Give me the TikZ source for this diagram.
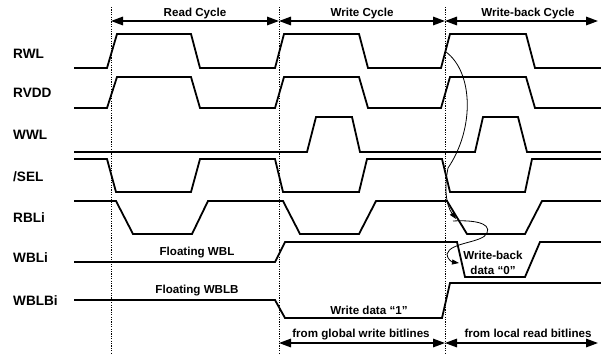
\documentclass[tikz,border=0pt]{standalone}
\usepackage{fontspec}
\setmainfont{Liberation Sans}
\usetikzlibrary{arrows.meta}
\begin{document}
\begin{tikzpicture}[x=1pt,y=-1pt,
 sig/.style={line width=1.8pt, line join=miter},
 sigtext/.style={font=\fontsize{13.6}{15}\selectfont\bfseries, anchor=base west, inner sep=0pt},
 lbl/.style={font=\fontsize{11.6}{13}\selectfont\bfseries, anchor=base, inner sep=0pt},
 cyc/.style={line width=1.6pt, {Triangle[length=12pt,width=8.5pt]}-{Triangle[length=12pt,width=8.5pt]}},
 bound/.style={line width=0.9pt, dash pattern=on 1.2pt off 1.2pt},
 cause/.style={line width=0.8pt, -{Triangle[length=7pt,width=5pt]}}
]
\useasboundingbox (0,0) rectangle (601,354);
% cycle boundaries
\coordinate (b0top) at (111,7);  \coordinate (b0bot) at (111,354);
\coordinate (b1top) at (279,7);  \coordinate (b1bot) at (279,354);
\coordinate (b2top) at (445,7);  \coordinate (b2bot) at (445,354);
\draw[bound] (b0top) -- (b0bot);
\draw[bound] (b1top) -- (b1bot);
\draw[bound] (b2top) -- (b2bot);
% cycle arrows
\coordinate (ra) at (111,21); \coordinate (rb) at (279,21);
\coordinate (wa) at (279,21); \coordinate (wb) at (445,21);
\coordinate (ka) at (445,21); \coordinate (kb) at (598,21);
\draw[cyc] (ra) -- (rb);
\draw[cyc] (wa) -- (wb);
\draw[cyc] (ka) -- (kb);
\node[lbl] (readc) at (195,16) {Read Cycle};
\node[lbl] (writec) at (362,16) {Write Cycle};
\node[lbl] (wbc) at (528,16) {Write-back Cycle};
% bottom arrows
\coordinate (ga) at (279,343); \coordinate (gb) at (445,343);
\coordinate (la) at (445,343); \coordinate (lb) at (598,343);
\draw[cyc] (ga) -- (gb);
\draw[cyc] (la) -- (lb);
\node[lbl] (glob) at (361,337) {from global write bitlines};
\node[lbl] (loc) at (528,337) {from local read bitlines};
% signal labels
\node[sigtext] (rwl) at (13,58.7) {RWL};
\node[sigtext] (rvdd) at (13,97.3) {RVDD};
\node[sigtext] (wwl) at (13,139.3) {WWL};
\node[sigtext] (sel) at (13,181.7) {/SEL};
\node[sigtext] (rbl) at (13,222.7) {RBLi};
\node[sigtext] (wbl) at (13,262.7) {WBLi};
\node[sigtext] (wblb) at (13,305) {WBLBi};
% waveforms
\draw[sig] (74,68) -- (107,68) -- (117,34) -- (191,34) -- (200,68) -- (275,68) -- (284,34) -- (359,34) -- (368,68) -- (441,68) -- (450,34) -- (526,34) -- (535,68) -- (601,68);
\draw[sig] (74,108) -- (107,108) -- (117,77) -- (191,77) -- (200,108) -- (275,108) -- (284,77) -- (359,77) -- (368,108) -- (441,108) -- (450,77) -- (526,77) -- (535,108) -- (601,108);
\draw[sig] (74,152) -- (307,152) -- (316,117) -- (352,117) -- (360,152) -- (475,152) -- (483,117) -- (518,117) -- (527,152) -- (601,152);
\draw[sig] (74,159) -- (107,159) -- (116,192) -- (191,192) -- (200,159) -- (275,159) -- (283,192) -- (359,192) -- (367,159) -- (442,159) -- (450,192) -- (525,192) -- (532,159) -- (601,159);
\draw[sig] (74,201) -- (116,201) -- (133,234) -- (192,234) -- (208,201) -- (283,201) -- (300,234) -- (359,234) -- (376,201) -- (447,201) -- (467,234) -- (525,234) -- (542,201) -- (601,201);
\draw[sig] (74,262) -- (275,262) -- (285,242) -- (457,242) -- (465,277) -- (525,277) -- (540,242) -- (601,242);
\draw[sig] (74,300) -- (275,300) -- (285,318) -- (442,318) -- (450,283) -- (601,283);
% texts on waveforms
\node[lbl] (fwbl) at (197,255) {Floating WBL};
\node[lbl] (fwblb) at (197,293) {Floating WBLB};
\node[lbl] (wd1) at (369,314) {Write data “1”};
\node[lbl] (wbd1) at (493,259.3) {Write-back};
\node[lbl] (wbd2) at (493,274) {data “0”};
% cause arrows
\coordinate (c1s) at (446,52);
\coordinate (c1e) at (456,219);
\coordinate (c2s) at (453,221);
\coordinate (c2e) at (459,263);
\draw[cause] (c1s) .. controls (473,72) and (475,128) .. (448,168) .. controls (444,188) and (446,205) .. (c1e);
\draw[cause] (c2s) .. controls (470,220) and (492,222) .. (487,233) .. controls (483,243) and (450,242) .. (447,254) .. controls (447,259) and (452,262) .. (c2e);
\end{tikzpicture}
\end{document}
